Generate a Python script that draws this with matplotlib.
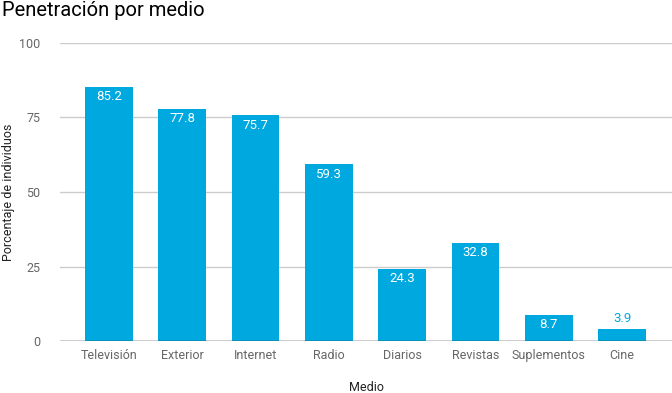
import matplotlib.pyplot as plt

# datos
medios = ['Televisión', 'Exterior', 'Internet', 'Radio', 'Diarios',
          'Revistas', 'Suplementos', 'Cine']
penetracion = [85.2, 77.8, 75.7, 59.3, 24.3, 32.8, 8.7, 3.9]
yticks = [0, 25, 50, 75, 100]

color_barra = '#00a8e0'
plt.rcParams['font.family'] = ['Roboto', 'DejaVu Sans']

fig = plt.figure(figsize=(6.72, 3.93), dpi=100)
ax = fig.add_axes([0.0893, 0.1323, 0.9107, 0.7583])

x = list(range(len(medios)))
bars = ax.bar(x, penetracion, width=0.65, color=color_barra, zorder=3)

# etiquetas de valor: dentro de la barra si cabe, si no encima
for xi, v in zip(x, penetracion):
    if v > 6:
        ax.annotate(f'{v}', (xi, v), xytext=(0, -7), textcoords='offset points',
                    ha='center', va='center', color='white', fontsize=9.5, zorder=4)
    else:
        ax.annotate(f'{v}', (xi, v), xytext=(0, 8), textcoords='offset points',
                    ha='center', va='center', color=color_barra, fontsize=9.5, zorder=4)

ax.set_xlim(-0.668, 7.68)
ax.set_ylim(0, 100)
ax.set_yticks(yticks)
ax.set_xticks(x)
ax.set_xticklabels(medios)
ax.yaxis.grid(True, color='#cccccc', linewidth=1, zorder=0)
ax.axhline(0, color='#333333', linewidth=1, zorder=4)
for s in ax.spines.values():
    s.set_visible(False)
ax.tick_params(axis='both', length=0, labelsize=9, labelcolor='#666666')
ax.tick_params(axis='x', pad=6)
ax.tick_params(axis='y', pad=14)

ax.set_xlabel('Medio', fontsize=9, color='#222222')
ax.set_ylabel('Porcentaje de individuos', fontsize=9, color='#222222')
ax.xaxis.set_label_coords(0.5, -0.134)
ax.yaxis.set_label_coords(-0.074, 0.5)

fig.text(0.003, 0.974, 'Penetración por medio', fontsize=14.5, color='#000000',
         ha='left', va='center')

fig.savefig('out.png', dpi=100)
